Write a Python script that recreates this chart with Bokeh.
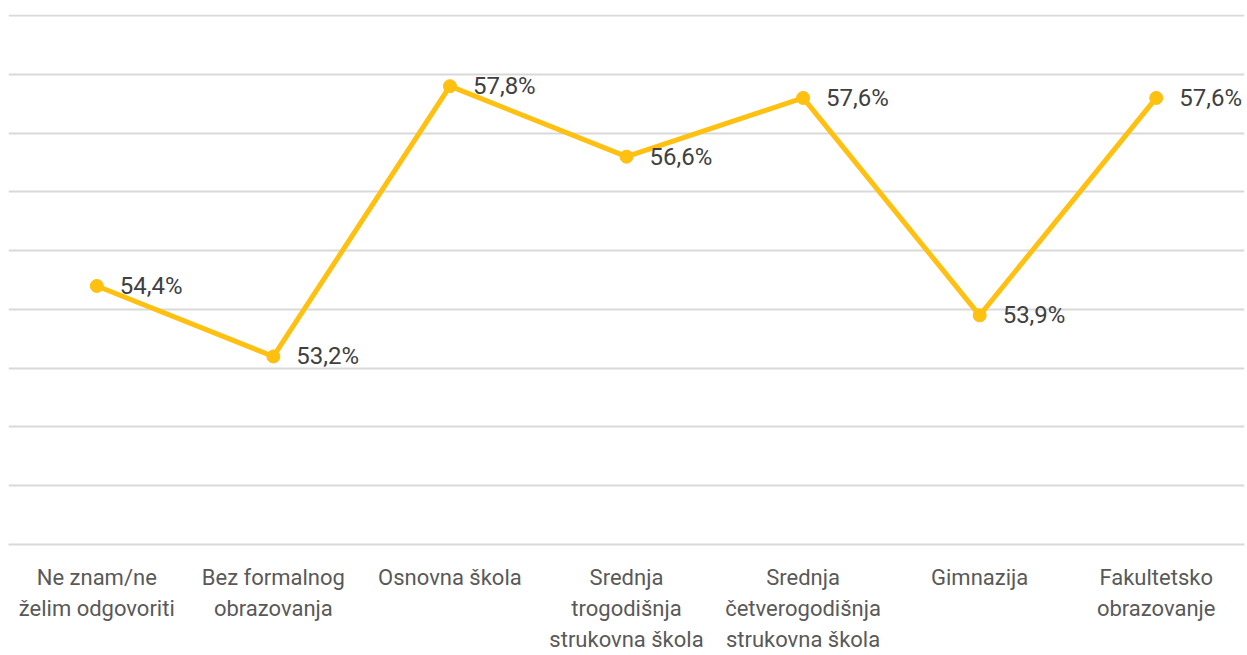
from bokeh.plotting import figure
from bokeh.models import Range1d, FixedTicker, ColumnDataSource, FactorRange
from bokeh.core.properties import value
from bokeh.embed import file_html
from bokeh.resources import INLINE

categories = [
    "Ne znam/ne\nželim odgovoriti",
    "Bez formalnog\nobrazovanja",
    "Osnovna škola",
    "Srednja\ntrogodišnja\nstrukovna škola",
    "Srednja\nčetverogodišnja\nstrukovna škola",
    "Gimnazija",
    "Fakultetsko\nobrazovanje",
]
values = [54.4, 53.2, 57.8, 56.6, 57.6, 53.9, 57.6]
value_labels = ["54,4%", "53,2%", "57,8%", "56,6%", "57,6%", "53,9%", "57,6%"]
y_ticks = [50, 51, 52, 53, 54, 55, 56, 57, 58, 59]

FONT = "Roboto"
LINE = "#FFC010"

src = ColumnDataSource(dict(x=categories, y=values, lab=value_labels))

p = figure(
    width=1247, height=655,
    x_range=FactorRange(factors=categories),
    y_range=Range1d(50, 59.02),
    output_backend="svg", toolbar_location=None,
    min_border_left=8, min_border_right=3, min_border_top=14, min_border_bottom=110,
)
p.outline_line_color = None
p.background_fill_color = "white"

p.line("x", "y", source=src, line_color=LINE, line_width=5)
p.scatter("x", "y", source=src, size=13, fill_color=LINE, line_color=LINE)
p.text("x", "y", text="lab", source=src, x_offset=23,
       text_font=value(FONT), text_font_size="24px", text_color="#404040",
       text_baseline="middle", text_align="left")

p.yaxis.visible = False
p.ygrid.ticker = FixedTicker(ticks=y_ticks)
p.ygrid.grid_line_color = "#d9d9d9"
p.ygrid.grid_line_width = 2
p.xgrid.grid_line_color = None

ax = p.xaxis[0]
ax.axis_line_color = "#d9d9d9"
ax.axis_line_width = 2
ax.major_tick_line_color = None
ax.minor_tick_line_color = None
ax.major_tick_out = 0
ax.major_tick_in = 0
ax.major_label_standoff = 20
ax.major_label_text_font = FONT
ax.major_label_text_font_size = "22px"
ax.major_label_text_color = "#595959"
ax.major_label_text_line_height = 1.25

open("out.html", "w").write(file_html(p, INLINE))
